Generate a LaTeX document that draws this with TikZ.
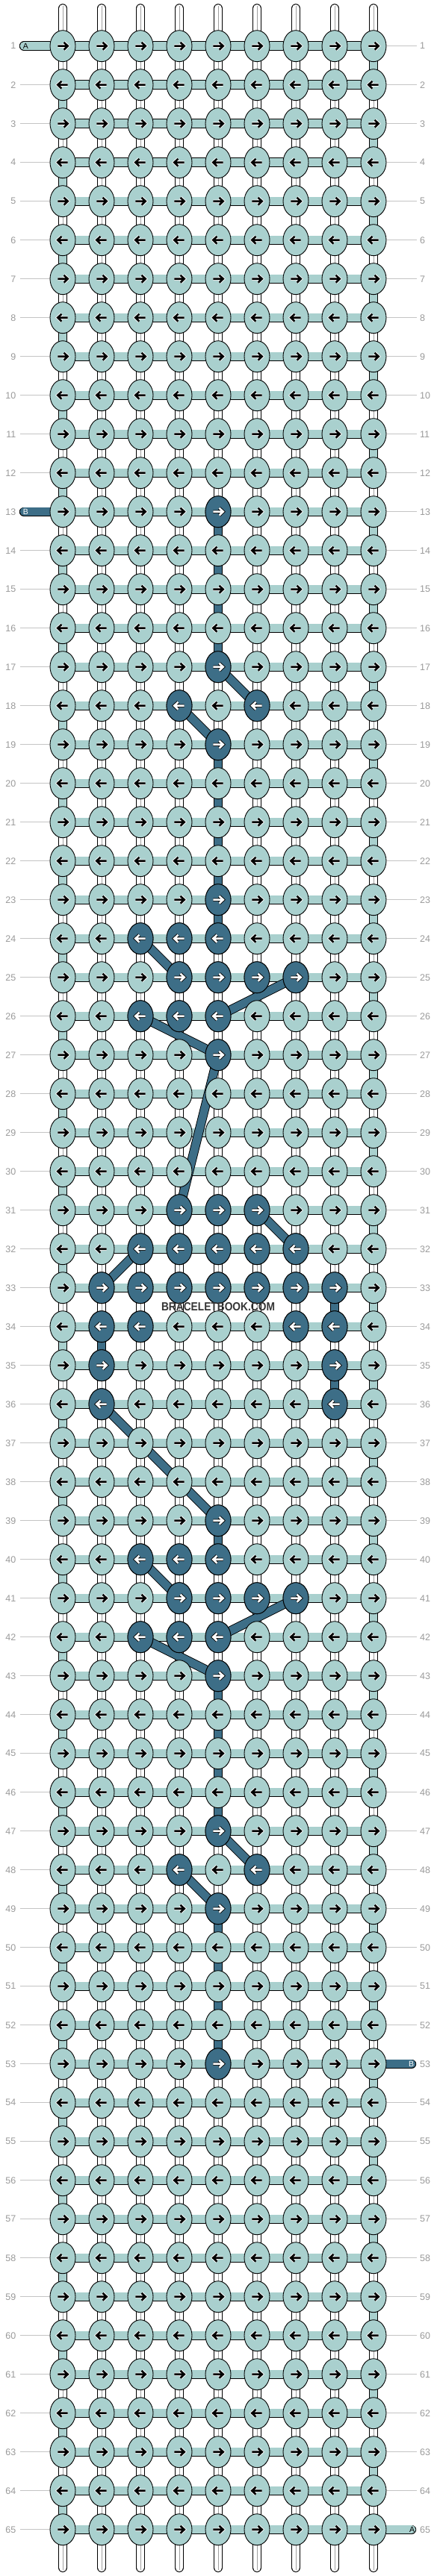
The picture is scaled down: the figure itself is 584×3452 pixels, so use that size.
\documentclass[tikz,border=0pt]{standalone}
\usepackage{fontspec}
\setmainfont{Liberation Sans}
\usetikzlibrary{shapes.geometric}
\definecolor{lt}{HTML}{A9D0CE}
\definecolor{dk}{HTML}{3D6E87}
\definecolor{lbl}{HTML}{9A9A9A}
\definecolor{lin}{HTML}{C4C4C4}
\definecolor{wmk}{HTML}{353535}
\begin{document}
\begin{tikzpicture}[x=1pt,y=-1pt,
  knotL/.style={ellipse, draw=black, line width=0.9pt, fill=lt, minimum width=34pt, minimum height=42pt, inner sep=0pt},
  knotD/.style={knotL, fill=dk},
  outl/.style={draw=black, line width=12.4pt},
  fillL/.style={draw=lt, line width=10.6pt},
  fillD/.style={draw=dk, line width=10.6pt},
  fillW/.style={draw=white, line width=10.6pt},
  midline/.style={draw=gray!75, line width=0.7pt},
  lblline/.style={draw=lin, line width=1pt},
  rowlbl/.style={text=lbl, font=\fontsize{12.5}{14}\selectfont, inner sep=0pt},
  endlbl/.style={font=\fontsize{10.5}{12}\selectfont, inner sep=0pt},
  arrowhalo/.style={line width=4.4pt, line cap=butt, line join=miter},
  arrowbody/.style={line width=2.6pt, line cap=butt, line join=miter},
]
\useasboundingbox (0,0) rectangle (584,3452);
% grid coordinates
\foreach \r in {1,...,65}{
  \foreach \c in {1,...,9}{
    \pgfmathsetmacro\xx{84+52*(\c-1)}
    \pgfmathsetmacro\yy{61.7+52*(\r-1)}
    \coordinate (p-\r-\c) at (\xx,\yy);
  }
}
% top and bottom strands
\foreach \c in {1,...,9}{
  \pgfmathsetmacro\xx{84+52*(\c-1)}
  \coordinate (t-\c) at (\xx,11.3);
  \coordinate (tm-\c) at (\xx,8.3);
  \coordinate (b-\c) at (\xx,3440.7);
  \coordinate (bm-\c) at (\xx,3443.7);
  \draw[outl, line cap=round] (t-\c) -- (p-1-\c);
  \draw[fillW, line cap=round] (t-\c) -- (p-1-\c);
  \draw[midline] (tm-\c) -- (p-1-\c);
  \draw[outl, line cap=round] (b-\c) -- (p-65-\c);
  \draw[fillW, line cap=round] (b-\c) -- (p-65-\c);
  \draw[midline] (bm-\c) -- (p-65-\c);
}
% vertical white strands
\foreach \r in {1,...,64}{
  \pgfmathtruncatemacro\rn{\r+1}
  \foreach \c in {1,...,9}{
    \draw[outl] (p-\r-\c) -- (p-\rn-\c);
    \draw[fillW] (p-\r-\c) -- (p-\rn-\c);
    \draw[midline] (p-\r-\c) -- (p-\rn-\c);
  }
}
% working thread turning at the edges
\foreach \r in {1,...,64}{
  \pgfmathtruncatemacro\rn{\r+1}
  \ifodd\r \def\cc{9}\else \def\cc{1}\fi
  \draw[outl] (p-\r-\cc) -- (p-\rn-\cc);
  \draw[fillL] (p-\r-\cc) -- (p-\rn-\cc);
}
% dark vertical segments
\foreach \r/\c in {13/5,14/5,15/5,16/5,19/5,20/5,21/5,22/5,23/5,33/8,34/2,35/8,39/5,43/5,44/5,45/5,46/5,49/5,50/5,51/5,52/5}{
  \pgfmathtruncatemacro\rn{\r+1}
  \draw[outl] (p-\r-\c) -- (p-\rn-\c);
  \draw[fillD] (p-\r-\c) -- (p-\rn-\c);
}
% row label lines
\foreach \r in {1,...,65}{
  \pgfmathsetmacro\yy{61.7+52*(\r-1)}
  \coordinate (la-\r) at (26.7,\yy);
  \coordinate (ra-\r) at (558,\yy);
}
\foreach \r in {2,...,12,14,15,...,65}{
  \draw[lblline] (la-\r) -- (p-\r-1);
}
\foreach \r in {1,...,52,54,55,...,64}{
  \draw[lblline] (p-\r-9) -- (ra-\r);
}
% horizontal bands
\foreach \r in {1,...,65}{
  \draw[outl] (p-\r-1) -- (p-\r-9);
  \draw[fillL] (p-\r-1) -- (p-\r-9);
}
% end bands
\coordinate (ea1) at (32,61.7);
\coordinate (eb1) at (32,685.7);
\coordinate (eb2) at (551,2765.7);
\coordinate (ea2) at (551,3389.7);
\draw[outl, line cap=round] (ea1) -- (p-1-1);
\draw[fillL, line cap=round] (ea1) -- (p-1-1);
\draw[outl, line cap=round] (eb1) -- (p-13-1);
\draw[fillD, line cap=round] (eb1) -- (p-13-1);
\draw[outl, line cap=round] (eb2) -- (p-53-9);
\draw[fillD, line cap=round] (eb2) -- (p-53-9);
\draw[outl, line cap=round] (ea2) -- (p-65-9);
\draw[fillL, line cap=round] (ea2) -- (p-65-9);
% diagonal dark thread
\foreach \ra/\ca/\rb/\cb in {17/5/18/6,18/4/19/5,24/3/25/4,25/7/26/5,26/3/27/5,27/5/31/4,31/6/32/7,32/3/33/2,36/2/39/5,40/3/41/4,41/7/42/5,42/3/43/5,47/5/48/6,48/4/49/5}{
  \draw[outl] (p-\ra-\ca) -- (p-\rb-\cb);
  \draw[fillD] (p-\ra-\ca) -- (p-\rb-\cb);
}
% knots
\foreach \r in {1,...,65}{
  \ifodd\r \def\sx{1}\else \def\sx{-1}\fi
  \foreach \c in {1,...,9}{
    \node[knotL] (k-\r-\c) at (p-\r-\c) {};
    \draw[shift={(p-\r-\c)}, xscale=\sx, white, arrowhalo] (-6.7,0) -- (6.0,0) (1.6,-4.9) -- (6.7,0) -- (1.6,4.9);
    \draw[shift={(p-\r-\c)}, xscale=\sx, black, arrowbody] (-6.7,0) -- (6.0,0) (1.6,-4.9) -- (6.7,0) -- (1.6,4.9);
  }
}
\foreach \r/\c in {13/5,17/5,18/4,18/6,19/5,23/5,24/3,24/4,24/5,25/4,25/5,25/6,25/7,26/3,26/4,26/5,27/5,31/4,31/5,31/6,32/3,32/4,32/5,32/6,32/7,33/2,33/3,33/4,33/5,33/6,33/7,33/8,34/2,34/3,34/7,34/8,35/2,35/8,36/2,36/8,39/5,40/3,40/4,40/5,41/4,41/5,41/6,41/7,42/3,42/4,42/5,43/5,47/5,48/4,48/6,49/5,53/5}{
  \ifodd\r \def\sx{1}\else \def\sx{-1}\fi
  \node[knotD] (d-\r-\c) at (p-\r-\c) {};
  \draw[shift={(p-\r-\c)}, xscale=\sx, black, arrowhalo] (-6.7,0) -- (6.0,0) (1.6,-4.9) -- (6.7,0) -- (1.6,4.9);
  \draw[shift={(p-\r-\c)}, xscale=\sx, white, arrowbody] (-6.7,0) -- (6.0,0) (1.6,-4.9) -- (6.7,0) -- (1.6,4.9);
}
% row labels
\foreach \r in {1,...,65}{
  \pgfmathsetmacro\yy{61.7+52*(\r-1)}
  \node[rowlbl, anchor=east] (ll-\r) at (21.5,\yy) {\r};
  \node[rowlbl, anchor=west] (rl-\r) at (562,\yy) {\r};
}
% end labels
\node[endlbl, text=black] (tA1) at (34.5,61.7) {A};
\node[endlbl, text=white] (tB1) at (34.5,685.7) {B};
\node[endlbl, text=white] (tB2) at (550.5,2765.7) {B};
\node[endlbl, text=black] (tA2) at (551.5,3389.7) {A};
% watermark
\node[inner sep=0pt, text=wmk] (wm) at (292,1751.2) {\resizebox{152pt}{11pt}{\bfseries BRACELETBOOK.COM}};
\end{tikzpicture}
\end{document}
